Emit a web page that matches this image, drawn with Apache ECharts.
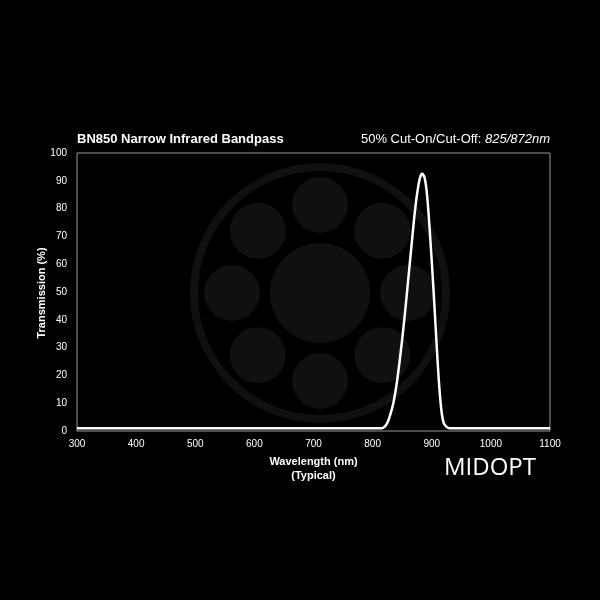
<!DOCTYPE html>
<html><head><meta charset="utf-8">
<script src="https://cdn.jsdelivr.net/npm/echarts@6/dist/echarts.min.js"></script>
<style>html,body{margin:0;background:#000}#c{width:600px;height:600px}</style>
</head><body><div id="c"></div>
<script>
const wavelengths = [300,400,500,600,700,800,815,820,825,830,835,840,845,850,855,860,865,870,875,880,884,888,892,896,900,904,908,912,916,920,925,930,1000,1100];
const transmission = [1,1,1,1,1,1,1,1.5,3,6,10,16,24,33,43,54,65,76,85,91,92.5,91,85,74,61,47,32,18,8,3,1.5,1,1,1];
const yTicks = [0,10,20,30,40,50,60,70,80,90,100];

const chart = echarts.init(document.getElementById('c'));
const cx=320, cy=293, g='#101010';
const logo=[{type:'circle',shape:{cx,cy,r:126},style:{fill:'none',stroke:g,lineWidth:8},z:-10},
  {type:'circle',shape:{cx,cy,r:50},style:{fill:g},z:-10}];
for(let i=0;i<8;i++){const a=i*Math.PI/4;logo.push({type:'circle',shape:{cx:cx+88*Math.sin(a),cy:cy-88*Math.cos(a),r:28},style:{fill:g},z:-10});}
chart.setOption({
  backgroundColor:'#000',
  animation:false,
  graphic:[...logo,
    {type:'text',left:77,top:133,style:{text:'BN850 Narrow Infrared Bandpass',fill:'#fff',font:'bold 13px Liberation Sans'}},
    {type:'text',right:50,top:133,style:{rich:{a:{fill:'#fff',font:'13px Liberation Sans'},b:{fill:'#fff',font:'italic 13px Liberation Sans'}},text:'{a|50% Cut-On/Cut-Off: }{b|825/872nm}'}},
    {type:'text',left:444,top:456,style:{text:'MIDOPT',fill:'#fff',font:'24px "Open Sans"'}},
    {type:'text',x:42,y:293,rotation:Math.PI/2,style:{text:'Transmission (%)',fill:'#fff',font:'bold 11px Liberation Sans',align:'center',verticalAlign:'middle'}}
  ],
  grid:{left:77,right:50,top:153,bottom:169,show:true,borderColor:'#999',borderWidth:1},
  xAxis:{type:'value',min:300,max:1100,interval:100,
    name:'Wavelength (nm)\n(Typical)',nameLocation:'middle',nameGap:24,
    nameTextStyle:{color:'#fff',fontWeight:'bold',fontSize:11,lineHeight:14,fontFamily:'Liberation Sans'},
    axisLine:{show:false},axisTick:{show:false},splitLine:{show:false},
    axisLabel:{color:'#fff',fontSize:10,fontFamily:'Liberation Sans',margin:8,formatter:v=>String(v)}},
  yAxis:{type:'value',min:0,max:100,interval:10,
    axisLine:{show:false},axisTick:{show:false},splitLine:{show:false},
    axisLabel:{color:'#fff',fontSize:10,fontFamily:'Liberation Sans',margin:10,
      formatter:v=>yTicks.includes(v)?String(v):''}},
  series:[{type:'line',smooth:0.3,symbol:'none',data:wavelengths.map((w,i)=>[w,transmission[i]]),
    lineStyle:{color:'#fff',width:2.5}}]
});
</script></body></html>
